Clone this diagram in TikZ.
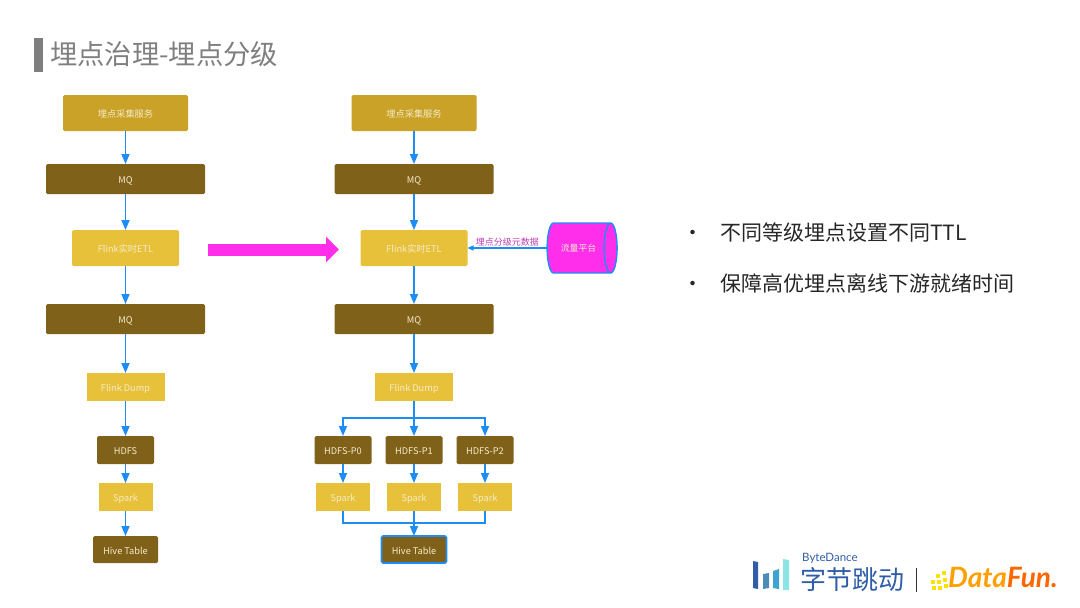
\documentclass[tikz,border=0pt]{standalone}
\usepackage{fontspec}
\setmainfont{Noto Sans CJK SC}
\newfontfamily\logofont[ItalicFont=* Bold Italic]{Lato}
\usetikzlibrary{shapes.geometric}
\usetikzlibrary{calc, positioning, arrows.meta}
\definecolor{flowblue}{HTML}{1E8CF5}
\definecolor{goldbox}{HTML}{C9A227}
\definecolor{brownbox}{HTML}{7F6119}
\definecolor{yellowbox}{HTML}{E8C13A}
\definecolor{boxtext}{HTML}{F5EBCB}
\definecolor{platform}{HTML}{FF2EEB}
\definecolor{metatext}{HTML}{BE3DB4}
\definecolor{titlegray}{HTML}{7F7F7F}
\definecolor{logoblue}{HTML}{2F5DA8}
\tikzset{box/.style={rectangle, rounded corners=1.5pt, outer sep=0pt, inner sep=0pt, text=boxtext, text height=9pt, text depth=0pt, font=\fontsize{9.2}{9}\selectfont}}
\tikzset{source box/.style={box, fill=goldbox, minimum width=125pt, minimum height=36pt}}
\tikzset{queue box/.style={box, fill=brownbox, minimum width=159pt, minimum height=30pt}}
\tikzset{etl box/.style={box, fill=yellowbox, minimum width=107pt, minimum height=36pt}}
\tikzset{dump box/.style={box, fill=yellowbox, rounded corners=0pt, minimum width=78pt, minimum height=28pt}}
\tikzset{hdfs box/.style={box, fill=brownbox, minimum width=57pt, minimum height=28pt}}
\tikzset{spark box/.style={box, fill=yellowbox, rounded corners=0pt, minimum width=54pt, minimum height=28pt}}
\tikzset{hive box/.style={box, fill=brownbox, minimum width=65pt, minimum height=27pt}}
\tikzset{flow/.style={draw=flowblue, line width=1.5pt}}
\tikzset{flow arrow/.style={flow, -{Triangle[length=10pt, width=8pt]}}}
\tikzset{bullet text/.style={anchor=west, inner sep=0pt, text=black!85, font=\fontsize{21}{22}\selectfont}}

\begin{document}
\begin{tikzpicture}[x=1pt, y=-1pt]
\useasboundingbox (0,0) rectangle (1080,608);
% heading
\fill[titlegray] (34,38) rectangle (43,72);
\node[anchor=west, inner sep=0pt, text=titlegray, font=\fontsize{27.3}{27}\selectfont] (heading) at (50,54) {埋点治理-埋点分级};
% old pipeline
\node[source box] (lsvc) at (125.5,113) {埋点采集服务};
\node[queue box, below=33pt of lsvc] (lmq1) {MQ};
\node[etl box, below=36pt of lmq1] (letl) {Flink实时ETL};
\node[queue box, below=38pt of letl] (lmq2) {MQ};
\node[dump box, below=39pt of lmq2] (ldump) {Flink Dump};
\node[hdfs box, below=35pt of ldump] (lhdfs) {HDFS};
\node[spark box, below=19pt of lhdfs] (lspark) {Spark};
\node[hive box, below=25pt of lspark] (lhive) {Hive Table};
\draw[flow arrow] (lsvc) to (lmq1);
\draw[flow arrow] (lmq1) to (letl);
\draw[flow arrow] (letl) to (lmq2);
\draw[flow arrow] (lmq2) to (ldump);
\draw[flow arrow] (ldump) to (lhdfs);
\draw[flow arrow] (lhdfs) to (lspark);
\draw[flow arrow] (lspark) to (lhive);
% new pipeline
\node[source box] (rsvc) at (414,113) {埋点采集服务};
\node[queue box, below=33pt of rsvc] (rmq1) {MQ};
\node[etl box, below=36pt of rmq1] (retl) {Flink实时ETL};
\node[queue box, below=38pt of retl] (rmq2) {MQ};
\node[dump box, below=39pt of rmq2] (rdump) {Flink Dump};
\node[hdfs box, below=35pt of rdump] (hdfsb) {HDFS-P1};
\node[hdfs box, left=14pt of hdfsb] (hdfsa) {HDFS-P0};
\node[hdfs box, right=14pt of hdfsb] (hdfsc) {HDFS-P2};
\node[spark box, below=19pt of hdfsa] (sparka) {Spark};
\node[spark box, below=19pt of hdfsb] (sparkb) {Spark};
\node[spark box, below=19pt of hdfsc] (sparkc) {Spark};
\node[hive box, below=25pt of sparkb, draw=flowblue, line width=1.6pt] (rhive) {Hive Table};
\coordinate[below=17pt of rdump] (split);
\coordinate[above=13pt of rhive] (merge);
\draw[flow arrow] (rsvc) to (rmq1);
\draw[flow arrow] (rmq1) to (retl);
\draw[flow arrow] (retl) to (rmq2);
\draw[flow arrow] (rmq2) to (rdump);
\draw[flow arrow] (rdump) to (hdfsb);
\draw[flow arrow] (split) -| (hdfsa);
\draw[flow arrow] (split) -| (hdfsc);
\draw[flow arrow] (hdfsa) to (sparka);
\draw[flow arrow] (hdfsb) to (sparkb);
\draw[flow arrow] (hdfsc) to (sparkc);
\draw[flow] (sparka) |- (merge);
\draw[flow] (sparkc) |- (merge);
\draw[flow arrow] (sparkb) to (rhive);
% metadata source
\node[cylinder, draw=flowblue, fill=platform, line width=1.4pt, shape aspect=1.6, minimum width=50pt, minimum height=70pt, inner sep=0pt, outer sep=0pt, text=boxtext, font=\fontsize{8.8}{9}\selectfont] (platform) at (578.5,248) {流量平台};
\draw[draw=flowblue, line width=1.1pt, -{Triangle[length=6pt, width=5pt]}] (platform) to node[above=1pt, text=metatext, inner sep=0pt, font=\fontsize{9}{9}\selectfont] {埋点分级元数据} (retl);
\coordinate (upgradea) at (208,249.5);
\coordinate (upgradeb) at (339,249.5);
\draw[draw=platform, line width=12pt, -{Triangle[length=13pt, width=25pt]}] (upgradea) to (upgradeb);
% notes
\node[bullet text] (dota) at (682,235) {•};
\node[bullet text] (notea) at (720,232) {不同等级埋点设置不同TTL};
\node[bullet text] (dotb) at (682,286) {•};
\node[bullet text] (noteb) at (720,283) {保障高优埋点离线下游就绪时间};
% logos
\fill[logoblue] (753,561) -- (758,562) -- (758,589) -- (753,588) -- cycle;
\fill[blue!40!cyan!60!black!70] (763,574) -- (769,573) -- (769,588) -- (763,589) -- cycle;
\fill[cyan!60!teal!90] (773,571) -- (779,569) -- (779,589) -- (773,588) -- cycle;
\fill[teal!45!cyan!45] (783,559) -- (789,560) -- (789,590) -- (783,590) -- cycle;
\node[anchor=west, inner sep=0pt, text=logoblue, font=\logofont\fontsize{11.5}{12}\selectfont] (bytename) at (802,558) {ByteDance};
\node[anchor=west, inner sep=0pt, text=logoblue, font=\fontsize{26}{26}\selectfont] (bytecn) at (800,580) {字节跳动};
\fill[black!80] (915.5,568) rectangle (917,592);
\foreach \px/\py in {936/574, 942/571, 931/580, 937/580, 943/578, 932/586, 938/586, 944/584} {
\fill[yellow!85!orange] (\px,\py) rectangle ++(4,4);
}
\node[anchor=west, inner sep=0pt, text=orange!75!yellow, font=\logofont\itshape\fontsize{28}{28}\selectfont] (datafun) at (948,577) {Data\textcolor{orange!80!red}{Fun.}};
\end{tikzpicture}
\end{document}
